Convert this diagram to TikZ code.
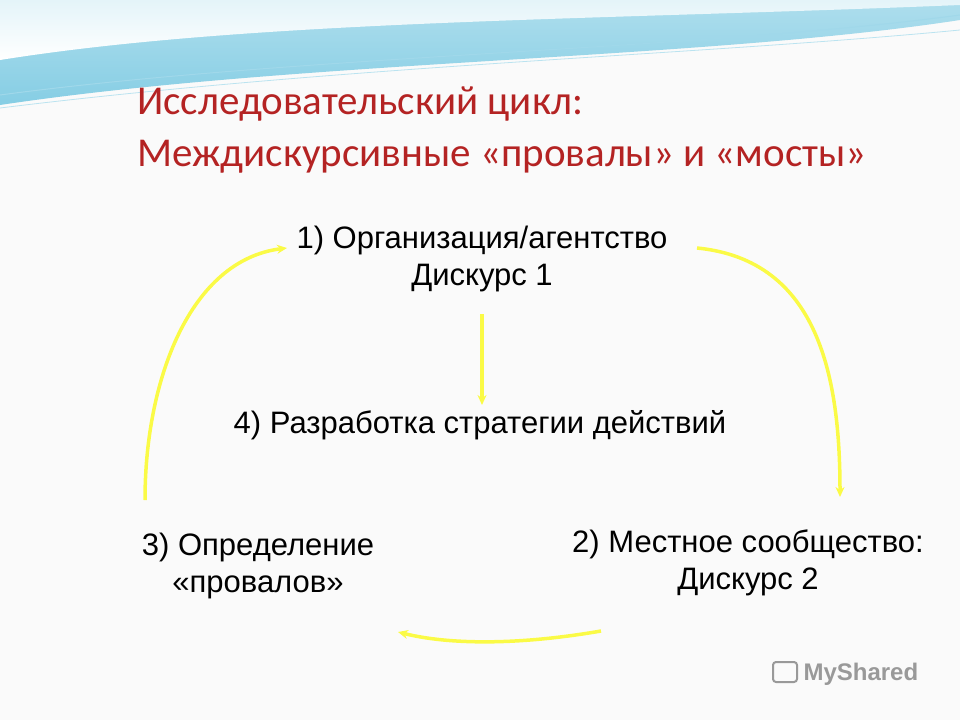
\documentclass[tikz,border=0pt]{standalone}
\usepackage{fontspec}
\setmainfont{Liberation Sans}
\newfontfamily\titlefont{Carlito}
\usetikzlibrary{arrows.meta}
\definecolor{ttl}{RGB}{180,35,35}
\definecolor{ylw}{RGB}{250,250,70}
\definecolor{sky}{RGB}{120,200,225}
\begin{document}
\begin{tikzpicture}[x=1pt,y=-1pt,
  lbl/.style={font=\fontsize{31}{37}\selectfont, align=center, text=black},
  yarrow/.style={draw=ylw, line width=3.5pt, -{Stealth[length=10pt,width=9pt]}}]
\useasboundingbox (0,0) rectangle (960,720);
\fill[white!96!gray] (0,0) rectangle (960,720);
\shade[top color=sky!60, bottom color=sky!90!white] (0,0) -- (960,0) -- (960,20) .. controls (700,60) and (300,60) .. (0,105) -- cycle;
\shade[top color=sky!20, bottom color=white] (0,0) -- (960,0) -- (960,5) .. controls (600,20) and (250,20) .. (0,60) -- cycle;
\draw[sky!70, line width=1pt] (0,95) .. controls (300,55) and (700,50) .. (960,15);
\draw[sky!50, line width=0.8pt] (0,108) .. controls (350,65) and (700,55) .. (960,30);
\node[anchor=west, text=ttl, font=\titlefont\fontsize{41}{52}\selectfont, align=left] (title) at (134,130) {Исследовательский цикл:\\Междискурсивные «провалы» и «мосты»};
\node[lbl] (n1) at (482,259) {1) Организация/агентство\\Дискурс 1};
\node[lbl] (n2) at (748,563) {2) Местное сообщество:\\Дискурс 2};
\node[lbl] (n3) at (258,566) {3) Определение\\«провалов»};
\node[lbl] (n4) at (480,425) {4) Разработка стратегии действий};
\coordinate (a1s) at (697,248); \coordinate (a1e) at (840,497);
\coordinate (a2s) at (482,314); \coordinate (a2e) at (482,405);
\coordinate (a3s) at (601,631); \coordinate (a3e) at (398,632);
\coordinate (a4s) at (145,500); \coordinate (a4e) at (287,248);
\draw[yarrow] (a1s) .. controls (820,260) and (840,380) .. (a1e);
\draw[yarrow] (a2s) -- (a2e);
\draw[yarrow] (a3s) .. controls (520,645) and (450,645) .. (a3e);
\draw[yarrow] (a4s) .. controls (145,380) and (190,260) .. (a4e);
\node[text=gray!80, font=\fontsize{24}{28}\selectfont\bfseries, anchor=west] (logo) at (800,674) {MyShared};
\node[draw=gray!80, line width=2pt, minimum width=24pt, minimum height=20pt, rounded corners=3pt] (icon) at (785,672) {};
\end{tikzpicture}
\end{document}
